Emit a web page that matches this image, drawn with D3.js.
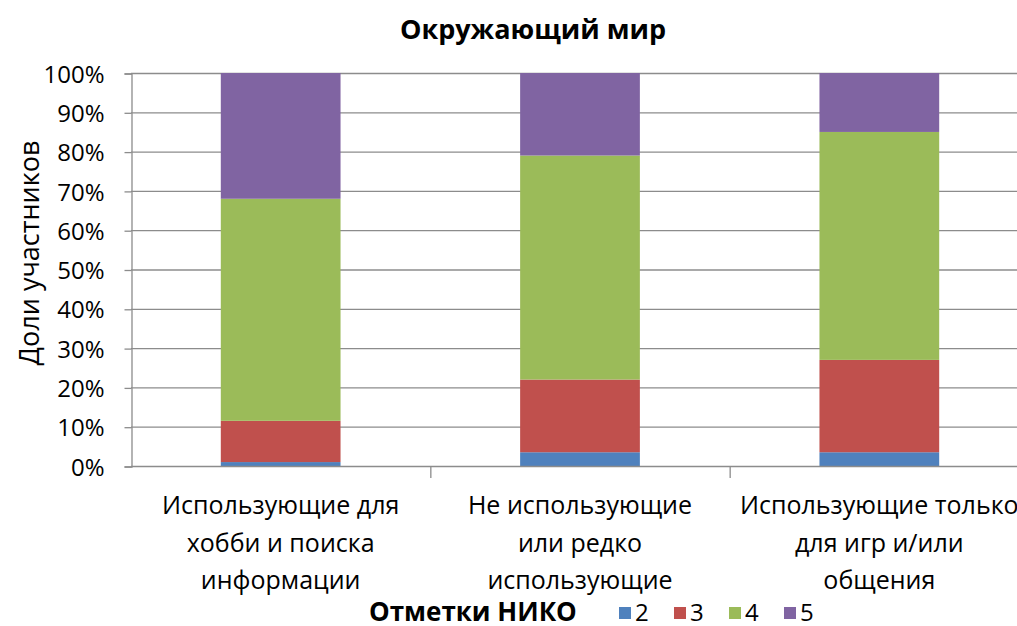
<!DOCTYPE html>
<html>
<head>
<meta charset="utf-8">
<script src="https://cdn.jsdelivr.net/npm/d3@7"></script>
<style>
  body { margin: 0; background: #fff; overflow: hidden; }
  text { font-family: "Open Sans", "Noto Sans", sans-serif; fill: #000; }
</style>
</head>
<body>
<script>
// данные
const categories = [
  ["Использующие для", "хобби и поиска", "информации"],
  ["Не использующие", "или редко", "использующие"],
  ["Использующие только", "для игр и/или", "общения"]
];
const series = ["2", "3", "4", "5"];
const values2 = [1, 3.5, 3.5];
const values3 = [10.5, 18.5, 23.5];
const values4 = [56.5, 57, 58];
const values5 = [32, 21, 15];
const yTicks = [0, 10, 20, 30, 40, 50, 60, 70, 80, 90, 100];
const colors = ["#4F81BD", "#C0504D", "#9BBB59", "#8064A2"];

const width = 1017, height = 626;
const svg = d3.select("body").append("svg")
  .attr("width", width).attr("height", height);

const mLeft = 131, mRight = 1029, mTop = 73, mBottom = 466;

const rows = categories.map((c, i) => ({
  key: i, "2": values2[i], "3": values3[i], "4": values4[i], "5": values5[i]
}));
const stacked = d3.stack().keys(series)(rows);

const x = d3.scaleBand().domain(d3.range(categories.length))
  .range([mLeft, mRight]).paddingInner(0.6).paddingOuter(0.3);
const xOuter = d3.scaleBand().domain(d3.range(categories.length))
  .range([mLeft, mRight]);
const y = d3.scaleLinear().domain([0, 100]).range([mBottom, mTop]);

// сетка
svg.append("g").selectAll("line").data(yTicks.slice(1)).join("line")
  .attr("x1", mLeft).attr("x2", mRight)
  .attr("y1", d => y(d) + 0.5).attr("y2", d => y(d) + 0.5)
  .attr("stroke", "#8c8c8c").attr("stroke-width", 1.3);

// столбцы
svg.append("g").selectAll("g").data(stacked).join("g")
  .attr("fill", (d, i) => colors[i])
  .selectAll("rect").data(d => d).join("rect")
  .attr("x", (d, i) => x(i))
  .attr("width", x.bandwidth())
  .attr("y", d => y(d[1]))
  .attr("height", d => y(d[0]) - y(d[1]));

// ось Y
const yAxis = d3.axisLeft(y).tickValues(yTicks).tickFormat(d => d + "%")
  .tickSize(7).tickPadding(20);
const gy = svg.append("g").attr("transform", `translate(${mLeft + 0.5},0.5)`).call(yAxis);
gy.select(".domain").attr("stroke", "#8c8c8c").attr("stroke-width", 1.3);
gy.selectAll(".tick line").attr("stroke", "#8c8c8c").attr("stroke-width", 1.3);
gy.selectAll(".tick text").style("font-size", "24px").attr("dy", "0.36em");

// ось X
svg.append("line")
  .attr("x1", mLeft).attr("x2", mRight)
  .attr("y1", mBottom + 0.5).attr("y2", mBottom + 0.5)
  .attr("stroke", "#8c8c8c").attr("stroke-width", 1.3);
svg.append("g").selectAll("line").data(d3.range(1, categories.length + 1)).join("line")
  .attr("x1", d => xOuter(d - 1) + xOuter.bandwidth() + 0.5)
  .attr("x2", d => xOuter(d - 1) + xOuter.bandwidth() + 0.5)
  .attr("y1", mBottom).attr("y2", mBottom + 12)
  .attr("stroke", "#8c8c8c").attr("stroke-width", 1.3);

const labels = svg.append("g").selectAll("text").data(categories).join("text")
  .attr("text-anchor", "middle")
  .style("font-size", "25px");
labels.each(function(lines, i) {
  d3.select(this).selectAll("tspan").data(lines).join("tspan")
    .attr("x", xOuter(i) + xOuter.bandwidth() / 2)
    .attr("y", (d, j) => 514 + j * 37.5)
    .text(d => d);
});

// заголовок
svg.append("text").attr("x", 533).attr("y", 39)
  .attr("text-anchor", "middle")
  .style("font-size", "27px").style("font-weight", "bold")
  .text("Окружающий мир");

// подпись оси Y
svg.append("text")
  .attr("transform", `translate(39,253) rotate(-90)`)
  .attr("text-anchor", "middle")
  .style("font-size", "27px")
  .text("Доли участников");

// легенда
svg.append("text").attr("x", 369).attr("y", 621)
  .style("font-size", "26px").style("font-weight", "bold")
  .text("Отметки НИКО");
const legendX = d3.scalePoint().domain(series).range([619, 784]);
const leg = svg.append("g").selectAll("g").data(series).join("g")
  .attr("transform", d => `translate(${legendX(d)},0)`);
leg.append("rect").attr("x", 0).attr("y", 607).attr("width", 12).attr("height", 12)
  .attr("fill", (d, i) => colors[i]);
leg.append("text").attr("x", 16).attr("y", 621)
  .style("font-size", "24px").text(d => d);
</script>
</body>
</html>
